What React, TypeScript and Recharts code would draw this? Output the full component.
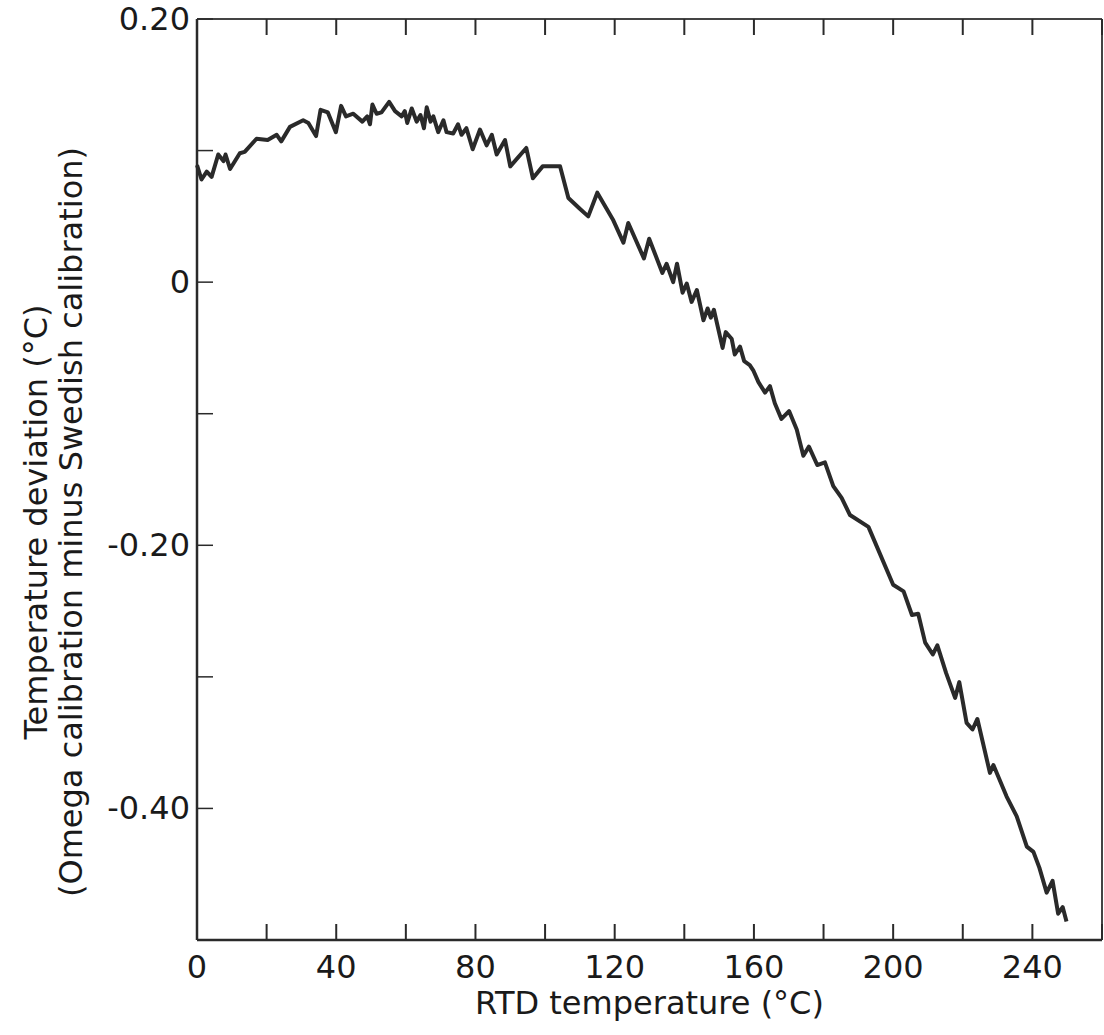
import React from 'react';
import { LineChart, Line, XAxis, YAxis } from 'recharts';

// RTD temperature (°C)
const temps = [
  0, 1.3, 2.8, 4.2, 6.1, 7.6, 8.2, 9.5, 12.3, 13.7, 17.1, 20.3, 22.9, 24.2, 26.7, 30.5, 32.0, 34.2,
  35.5, 37.6, 39.9, 41.4, 42.8, 44.9, 47.5, 48.9, 49.7, 50.4, 51.6, 53.0, 55.2, 56.9, 58.8, 59.7,
  60.4, 61.7, 63.1, 64.2, 65.2, 66.0, 67.1, 67.9, 69.3, 70.8, 71.7, 73.6, 75.0, 76.0, 77.4, 79.2,
  81.3, 83.2, 84.7, 86.1, 88.5, 90.0, 94.6, 96.5, 99.3, 104.3, 106.7, 109.9, 112.4, 115.0, 119.6,
  122.5, 123.9, 128.4, 129.9, 133.7, 134.9, 136.8, 137.9, 139.5, 140.7, 142.1, 143.6, 145.5, 146.7,
  147.6, 148.5, 151.0, 151.9, 153.6, 154.5, 156.0, 157.2, 158.8, 159.8, 161.3, 163.2, 164.6, 166.0,
  167.9, 170.1, 172.3, 174.2, 175.8, 178.2, 180.4, 182.8, 185.2, 187.6, 192.9, 200.0, 203.0, 205.4,
  207.2, 209.2, 211.4, 212.7, 215.2, 217.8, 219.0, 221.1, 222.8, 224.2, 227.8, 228.8, 232.6, 235.5,
  238.4, 240.3, 242.0, 244.1, 245.8, 247.4, 248.7, 249.8,
];

// Omega calibration minus Swedish calibration (°C)
const deviations = [
  0.089, 0.078, 0.084, 0.080, 0.097, 0.092, 0.097, 0.086, 0.098, 0.099, 0.109, 0.108, 0.112, 0.107,
  0.118, 0.123, 0.121, 0.111, 0.131, 0.129, 0.114, 0.134, 0.126, 0.128, 0.122, 0.126, 0.120, 0.135,
  0.128, 0.129, 0.137, 0.130, 0.126, 0.130, 0.121, 0.132, 0.122, 0.127, 0.117, 0.133, 0.122, 0.126,
  0.114, 0.123, 0.114, 0.113, 0.120, 0.112, 0.117, 0.101, 0.116, 0.104, 0.112, 0.097, 0.108, 0.088,
  0.102, 0.079, 0.088, 0.088, 0.064, 0.056, 0.050, 0.068, 0.047, 0.030, 0.045, 0.018, 0.033, 0.007,
  0.014, 0.000, 0.014, -0.008, -0.001, -0.015, -0.006, -0.029, -0.020, -0.027, -0.021, -0.050,
  -0.038, -0.043, -0.055, -0.049, -0.060, -0.063, -0.067, -0.076, -0.084, -0.079, -0.092, -0.104,
  -0.098, -0.112, -0.132, -0.125, -0.139, -0.137, -0.155, -0.164, -0.177, -0.186, -0.230, -0.235,
  -0.253, -0.252, -0.274, -0.283, -0.276, -0.297, -0.316, -0.304, -0.335, -0.340, -0.332, -0.373,
  -0.367, -0.391, -0.406, -0.429, -0.433, -0.445, -0.464, -0.455, -0.480, -0.475, -0.486,
];

const xTicks = [0, 20, 40, 60, 80, 100, 120, 140, 160, 180, 200, 220, 240, 260];
const xTickLabels: Record<number, string> = { 0: '0', 40: '40', 80: '80', 120: '120', 160: '160', 200: '200', 240: '240' };
const yTicks = [-0.4, -0.3, -0.2, -0.1, 0, 0.1, 0.2];
const yTickLabels: Record<number, string> = { [-4]: '-0.40', [-2]: '-0.20', 0: '0', 2: '0.20' };

const data = temps.map((t, i) => ({ t, dev: deviations[i] }));

const FONT = '"DejaVu Sans", sans-serif';
const INK = '#2a2a2a';
const TICK = 16;

const BottomTick = (props: any) => {
  const { x, y, payload } = props;
  const label = xTickLabels[payload.value];
  return (
    <g>
      <line x1={x} y1={y} x2={x} y2={y - TICK} stroke={INK} strokeWidth={2} />
      {label && (
        <text x={x} y={y + 38} textAnchor="middle" fontFamily={FONT} fontSize={32} fill="#1a1a1a">
          {label}
        </text>
      )}
    </g>
  );
};

const TopTick = (props: any) => {
  const { x, y } = props;
  return <line x1={x} y1={y} x2={x} y2={y + TICK} stroke={INK} strokeWidth={2} />;
};

const LeftTick = (props: any) => {
  const { x, y, payload } = props;
  const label = yTickLabels[Math.round(payload.value * 10)];
  return (
    <g>
      <line x1={x} y1={y} x2={x + TICK} y2={y} stroke={INK} strokeWidth={1.5} />
      {label && (
        <text x={x - 7} y={y} textAnchor="end" dominantBaseline="central" fontFamily={FONT} fontSize={32} fill="#1a1a1a">
          {label}
        </text>
      )}
    </g>
  );
};

const RightTick = (props: any) => {
  const { x, y } = props;
  return <line x1={x} y1={y} x2={x - TICK} y2={y} stroke={INK} strokeWidth={1.5} />;
};

const xTitle = (props: any) => {
  const vb = props.viewBox;
  return (
    <text x={vb.x + vb.width / 2} y={vb.y + 74} textAnchor="middle" fontFamily={FONT} fontSize={32} fill="#1a1a1a">
      RTD temperature (°C)
    </text>
  );
};

const yTitle = () => (
  <g fontFamily={FONT} fontSize={32} fill="#1a1a1a">
    <text x={36} y={522} textAnchor="middle" dominantBaseline="central" transform="rotate(-90 36 522)">
      Temperature deviation (°C)
    </text>
    <text x={71} y={522} textAnchor="middle" dominantBaseline="central" transform="rotate(-90 71 522)">
      (Omega calibration minus Swedish calibration)
    </text>
  </g>
);

export default function App() {
  return (
    <div style={{ position: 'absolute', left: 0, top: 0, background: '#fff' }}>
      <LineChart width={1104} height={1035} data={data} margin={{ top: 0, right: 0, bottom: 0, left: 0 }}>
        <XAxis
          dataKey="t"
          type="number"
          domain={[0, 260]}
          ticks={xTicks}
          interval={0}
          height={95}
          tickSize={0}
          tickMargin={0}
          tick={BottomTick}
          axisLine={{ stroke: INK, strokeWidth: 2.5 }}
          label={xTitle}
        />
        <XAxis
          xAxisId="top"
          orientation="top"
          dataKey="t"
          type="number"
          domain={[0, 260]}
          ticks={xTicks}
          interval={0}
          height={19}
          tickSize={0}
          tickMargin={0}
          tick={TopTick}
          axisLine={{ stroke: '#444', strokeWidth: 2 }}
        />
        <YAxis
          type="number"
          domain={[-0.5, 0.2]}
          ticks={yTicks}
          interval={0}
          width={197}
          tickSize={0}
          tickMargin={0}
          tick={LeftTick}
          axisLine={{ stroke: INK, strokeWidth: 2.5 }}
          label={yTitle}
        />
        <YAxis
          yAxisId="right"
          orientation="right"
          type="number"
          domain={[-0.5, 0.2]}
          ticks={yTicks}
          interval={0}
          width={2}
          tickSize={0}
          tickMargin={0}
          tick={RightTick}
          axisLine={{ stroke: '#444', strokeWidth: 2 }}
        />
        <Line
          type="linear"
          dataKey="dev"
          stroke={INK}
          strokeWidth={4}
          strokeLinejoin="round"
          dot={false}
          activeDot={false}
          isAnimationActive={false}
        />
      </LineChart>
    </div>
  );
}
